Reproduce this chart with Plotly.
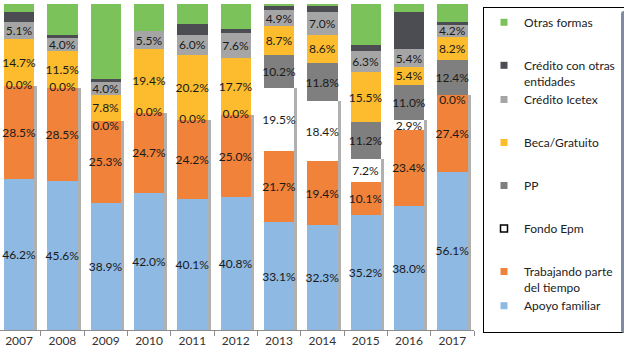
import plotly.graph_objects as go

years = ["2007", "2008", "2009", "2010", "2011", "2012", "2013", "2014", "2015", "2016", "2017"]

apoyo_familiar = [46.2, 45.6, 38.9, 42.0, 40.1, 40.8, 33.1, 32.3, 35.2, 38.0, 56.1]
trabajando = [28.5, 28.5, 25.3, 24.7, 24.2, 25.0, 21.7, 19.4, 10.1, 23.4, 27.4]
fondo_epm = [0.0, 0.0, 0.0, 0.0, 0.0, 0.0, 19.5, 18.4, 7.2, 2.9, 0.0]
pp = [None, None, None, None, None, None, 10.2, 11.8, 11.2, 11.0, 12.4]
beca = [14.7, 11.5, 7.8, 19.4, 20.2, 17.7, 8.7, 8.6, 15.5, 5.4, 8.2]
icetex = [5.1, 4.0, 4.0, 5.5, 6.0, 7.6, 4.9, 7.0, 6.3, 5.4, 4.2]
credito_otras = [2.9, 1.0, 1.0, 0.0, 3.3, 1.3, 1.3, 1.8, 2.0, 11.4, 1.0]
otras_formas = [2.6, 9.4, 23.0, 8.4, 6.2, 7.6, 0.6, 0.7, 12.5, 2.5, 6.4]

series = [
    ("Apoyo familiar", apoyo_familiar, "#8EB9E3", True),
    ("Trabajando parte del tiempo", trabajando, "#F0823A", True),
    ("Fondo Epm", fondo_epm, "#FFFFFF", True),
    ("PP", pp, "#7F7F7F", True),
    ("Beca/Gratuito", beca, "#FCBC2D", True),
    ("Crédito Icetex", icetex, "#A5A5A5", True),
    ("Crédito con otras entidades", credito_otras, "#4B4D52", False),
    ("Otras formas", otras_formas, "#7CC25A", False),
]

FONT = "Lato, 'Open Sans', sans-serif"
TXT = "#1a1a1a"

fig = go.Figure()


def nz(v):
    return 0.0 if v is None else v


# shadow stack (drawn underneath, on the hidden base axis, offset a few pixels right)
low = [nz(a) + nz(b) + nz(c) for a, b, c in zip(apoyo_familiar, trabajando, fondo_epm)]
high = [nz(a) + nz(b) + nz(c) + nz(d) + nz(e)
        for a, b, c, d, e in zip(pp, beca, icetex, credito_otras, otras_formas)]
fig.add_trace(go.Bar(x=years, y=low, marker=dict(color="rgba(80,80,80,0.45)", line=dict(width=0)),
                     showlegend=False, hoverinfo="skip", xaxis="x", yaxis="y"))
fig.add_trace(go.Bar(x=years, y=high, marker=dict(color="rgba(0,0,0,0)", line=dict(width=0)),
                     showlegend=False, hoverinfo="skip", xaxis="x", yaxis="y"))

for name, vals, color, labeled in series:
    texts = []
    for v in vals:
        if labeled and v is not None and v > 0:
            texts.append(f"{v:.1f}%")
        else:
            texts.append("")
    fig.add_trace(go.Bar(
        x=years, y=vals, name=name, marker=dict(color=color, line=dict(width=0)),
        text=texts, textposition="inside", insidetextanchor="middle", textangle=0,
        constraintext="none", insidetextfont=dict(family=FONT, size=12, color=TXT),
        showlegend=False, xaxis="x2", yaxis="y",
    ))

# 0.0% labels for zero-valued Fondo Epm segments (sit on the orange top edge)
totals = [l + h for l, h in zip(low, high)]
zx, zy, zt, zp = [], [], [], []
for yr, a, t, f, b, tot in zip(years, apoyo_familiar, trabajando, fondo_epm, beca, totals):
    if f == 0:
        zx.append(yr)
        zy.append((a + t) / tot * 100)
        zt.append(f"{f:.1f}%")
        # nudge below the edge where the yellow segment above is too thin
        zp.append("bottom center" if b / tot * 100 < 10 else "middle center")
fig.add_trace(go.Scatter(x=zx, y=zy, text=zt, mode="text", textposition=zp,
                         textfont=dict(family=FONT, size=12, color=TXT), showlegend=False,
                         hoverinfo="skip", cliponaxis=False, xaxis="x2", yaxis="y"))

# legend entries
legend_items = [
    ("Otras formas", "#7CC25A", None, "g1"),
    ("Crédito con otras<br>entidades", "#4B4D52", None, "g2"),
    ("Crédito Icetex", "#A5A5A5", None, "g2"),
    ("Beca/Gratuito", "#FCBC2D", None, "g3"),
    ("PP", "#7F7F7F", None, "g4"),
    ("Fondo Epm", "#FFFFFF", "#000000", "g5"),
    ("Trabajando parte<br>del tiempo", "#F0823A", None, "g6"),
    ("Apoyo familiar<br> ", "#8EB9E3", None, "g6"),
]
for rank, (name, color, lc, grp) in enumerate(legend_items, start=1):
    fig.add_trace(go.Scatter(
        x=[None], y=[None], mode="markers", name=name, legendgroup=grp, legendrank=rank,
        marker=dict(symbol="square", size=7, color=color,
                    line=dict(color=lc if lc else color, width=1.5 if lc else 0)),
        hoverinfo="skip", xaxis="x2", yaxis="y",
    ))

W, H = 624, 356
ml, mr, mt, mb = 0, 150, 4, 26
pw = W - ml - mr
ph = H - mt - mb
shift = 3 / (pw / 10.94)

fig.update_layout(
    width=W, height=H,
    margin=dict(l=ml, r=mr, t=mt, b=mb, autoexpand=False),
    paper_bgcolor="white", plot_bgcolor="white",
    barmode="stack", barnorm="percent", bargap=0.3,
    font=dict(family=FONT, size=12, color="#333"),
    xaxis=dict(type="category", categoryarray=years, range=[-0.44 - shift, 10.5 - shift],
               visible=False, showgrid=False, zeroline=False),
    xaxis2=dict(type="category", categoryarray=years, overlaying="x", anchor="y", side="bottom",
                range=[-0.44, 10.5], showline=True, linecolor="#8c8c8c", linewidth=1,
                ticks="outside", tickson="boundaries", ticklen=5, tickcolor="#8c8c8c",
                tickfont=dict(family=FONT, size=12, color="#333"), showgrid=False, zeroline=False),
    yaxis=dict(range=[0, 100], visible=False, showgrid=False, zeroline=False),
    legend=dict(x=483 / pw, xanchor="left", y=1 - (7 - mt) / ph, yanchor="top",
                bordercolor="black", borderwidth=1, bgcolor="white",
                font=dict(family=FONT, size=12, color="#222"), tracegroupgap=24,
                valign="top", itemwidth=30, traceorder="grouped"),
    showlegend=True,
)

fig.write_html("out.html", config={"displayModeBar": False},
               post_script="document.body.style.margin='0';")
